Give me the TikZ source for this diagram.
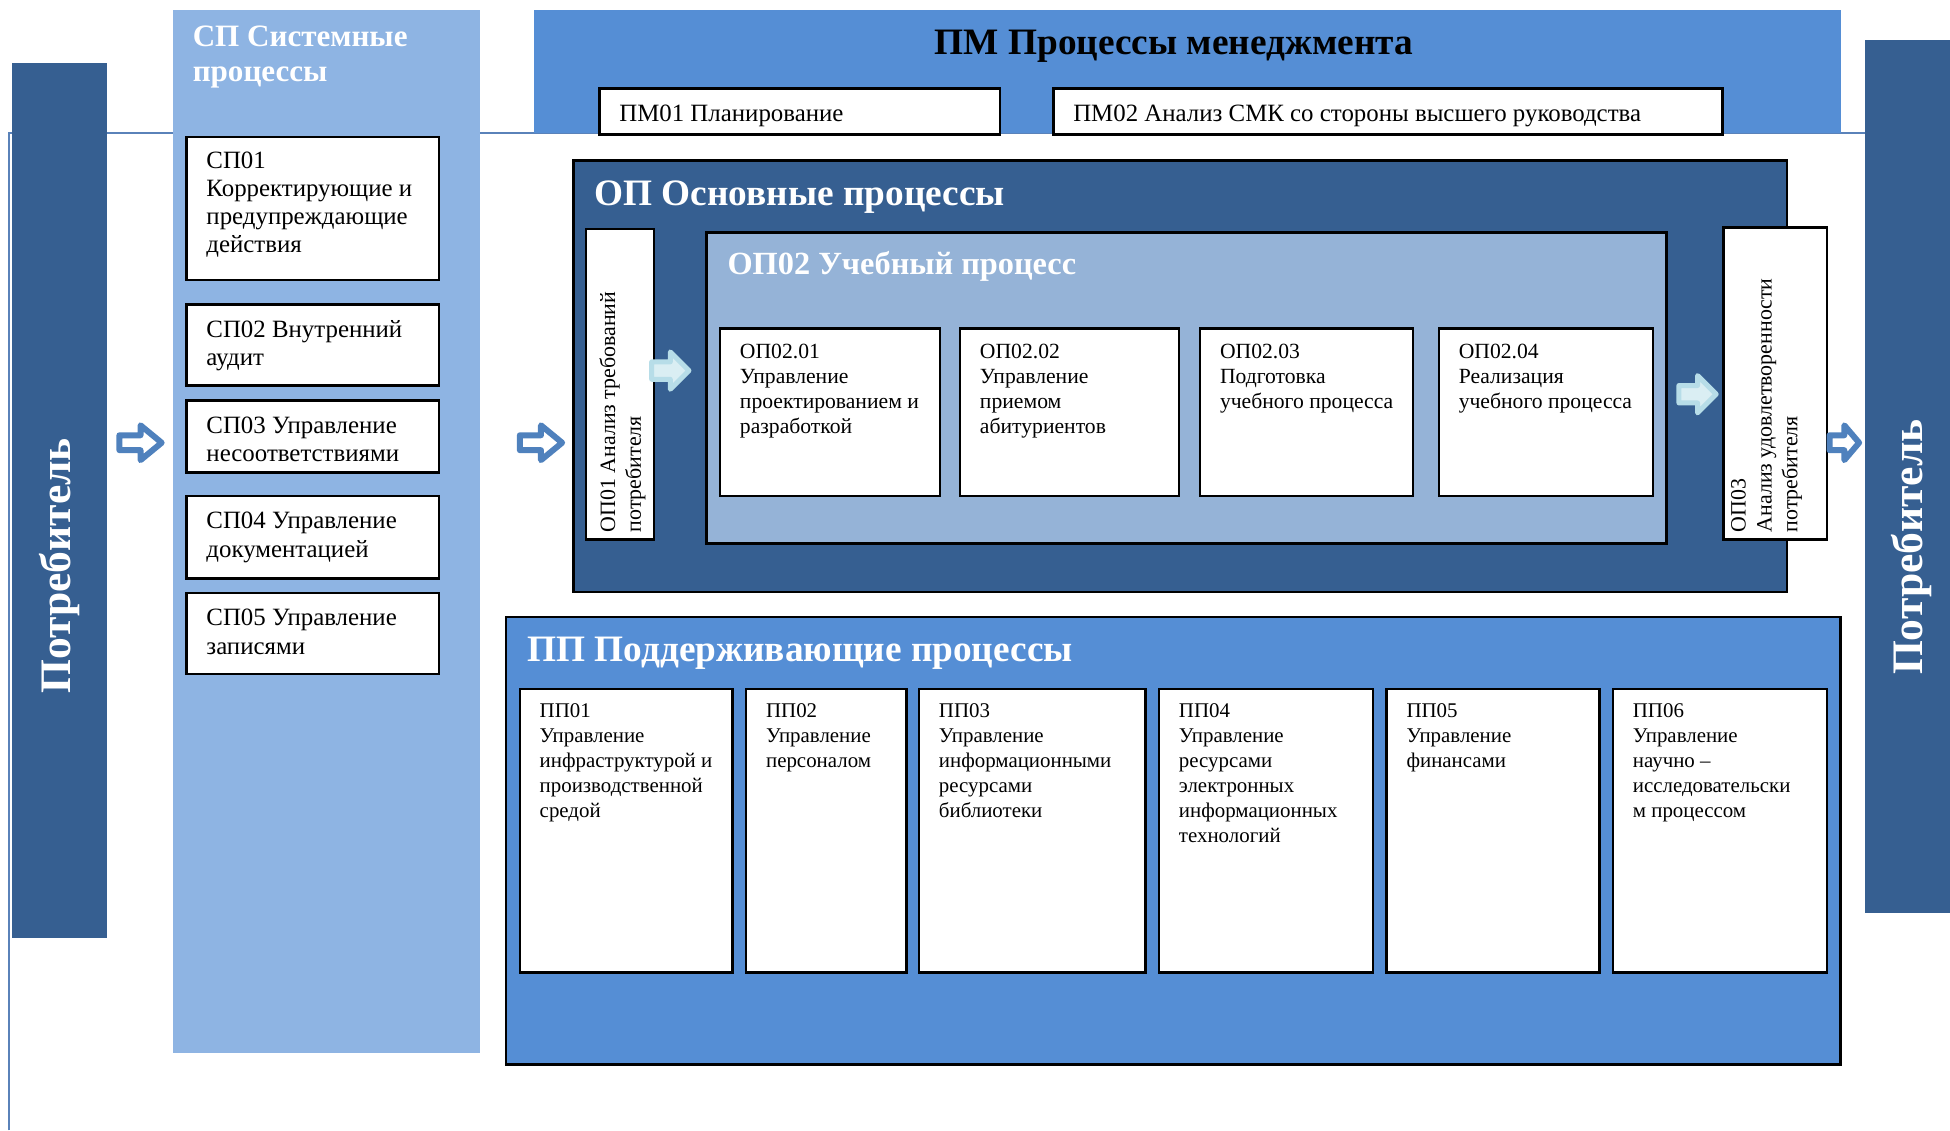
\documentclass[tikz,border=0pt]{standalone}
\usepackage{fontspec}
\setmainfont{Liberation Serif}
\usetikzlibrary{fit,calc}
\definecolor{dkblue}{RGB}{54,95,145}
\definecolor{midblue}{RGB}{85,142,213}
\definecolor{spblue}{RGB}{142,180,227}
\definecolor{opblue}{RGB}{149,179,215}
\definecolor{arrblue}{RGB}{79,129,189}
\definecolor{cyanline}{RGB}{183,221,232}
\definecolor{cyanfill}{RGB}{218,238,243}
\definecolor{frameline}{RGB}{90,130,185}
\begin{document}
\begin{tikzpicture}[x=0.5pt,y=-0.5pt,
  area/.style={inner sep=0pt, outer sep=0pt, draw=none},
  framed/.style={inner sep=0pt, outer sep=0pt, draw=black, line width=1pt},
  wbox/.style={framed, fill=white},
  txt/.style={inner sep=0pt, outer sep=0pt, anchor=north west, align=left},
  sptxt/.style={txt, font=\fontsize{10}{11.3}\selectfont},
  optxt/.style={txt, font=\fontsize{8.7}{10}\selectfont},
  pptxt/.style={txt, font=\fontsize{8.4}{10}\selectfont},
  rottxt/.style={txt, rotate=90, font=\fontsize{8.8}{10.4}\selectfont},
  wtitle/.style={txt, text=white, font=\bfseries\fontsize{15}{17}\selectfont},
  custtxt/.style={inner sep=0pt, rotate=90, text=white, font=\bfseries\fontsize{17.5}{20}\selectfont},
  bluearrow/.pic={\draw[arrblue, line width=2.4pt, fill=white, line join=round]
     (-17,-6) -- (0,-6) -- (0,-14) -- (17,0) -- (0,14) -- (0,6) -- (-17,6) -- cycle;},
  cyanarrow/.pic={\draw[cyanline, line width=2pt, fill=cyanfill, line join=round]
     (-15,-7) -- (0,-7) -- (0,-15) -- (15,0) -- (0,15) -- (0,7) -- (-15,7) -- cycle;}
]
\useasboundingbox (0,0) rectangle (1568,909);
% thin frame line
\draw[frameline, line width=0.8pt] (7,909) -- (7,107) -- (1500,107);

% consumer bars
\node[area, fill=dkblue, fit={(10,51)(86,754)}] (lbar) {};
\node[custtxt] (lbart) at (48,455) {Потребитель};
\node[area, fill=dkblue, fit={(1500,32)(1568,734)}] (rbar) {};
\node[custtxt] (rbart) at (1537,440) {Потребитель};

% SP column
\node[area, fill=spblue, fit={(139,8)(386,847)}] (sp) {};
\node[wtitle, font=\bfseries\fontsize{12.5}{14}\selectfont] (spt) at (155,21) {СП Системные\\процессы};
\node[wbox, fit={(150,110)(353,225)}] (sp01) {};
\node[sptxt] (sp01t) at ([shift={(16,12)}]sp01.north west) {СП01\\Корректирующие и\\предупреждающие\\действия};
\node[wbox, fit={(150,245)(353,310)}] (sp02) {};
\node[sptxt] (sp02t) at ([shift={(16,13)}]sp02.north west) {СП02 Внутренний\\аудит};
\node[wbox, fit={(150,322)(353,380)}] (sp03) {};
\node[sptxt] (sp03t) at ([shift={(16,13)}]sp03.north west) {СП03 Управление\\несоответствиями};
\node[wbox, fit={(150,399)(353,465)}] (sp04) {};
\node[sptxt] (sp04t) at ([shift={(16,13)}]sp04.north west) {СП04 Управление\\документацией};
\node[wbox, fit={(150,477)(353,542)}] (sp05) {};
\node[sptxt] (sp05t) at ([shift={(16,13)}]sp05.north west) {СП05 Управление\\записями};

% PM
\node[area, fill=midblue, fit={(429,8)(1480,107)}] (pm) {};
\node[txt, anchor=north, font=\bfseries\fontsize{15}{17}\selectfont] (pmt) at (944,24) {ПМ Процессы менеджмента};
\node[wbox, fit={(482,71)(804,108)}] (pm01) {};
\node[sptxt, anchor=base west] (pm01t) at (498,98) {ПМ01 Планирование};
\node[wbox, fit={(847,71)(1385,108)}] (pm02) {};
\node[sptxt, anchor=base west] (pm02t) at (863,98) {ПМ02 Анализ СМК со стороны высшего руководства};

% OP
\node[framed, fill=dkblue, fit={(461,129)(1437,476)}] (op) {};
\node[wtitle] (opt) at (478,145) {ОП Основные процессы};
\node[wbox, fit={(471,184)(526,434)}] (op01) {};
\node[rottxt] (op01t) at (482,428) {ОП01 Анализ требований\\потребителя};
\node[framed, fill=opblue, fit={(568,187)(1340,437)}] (op02) {};
\node[wtitle, font=\bfseries\fontsize{13}{15}\selectfont] (op02t) at (585,202) {ОП02 Учебный процесс};
\node[wbox, fit={(579,264)(756,399)}] (op0201) {};
\node[optxt] (op0201t) at ([shift={(16,13)}]op0201.north west) {ОП02.01\\Управление\\проектированием и\\разработкой};
\node[wbox, fit={(772,264)(948,399)}] (op0202) {};
\node[optxt] (op0202t) at ([shift={(16,13)}]op0202.north west) {ОП02.02\\Управление\\приемом\\абитуриентов};
\node[wbox, fit={(965,264)(1136,399)}] (op0203) {};
\node[optxt] (op0203t) at ([shift={(16,13)}]op0203.north west) {ОП02.03\\Подготовка\\учебного процесса};
\node[wbox, fit={(1157,264)(1329,399)}] (op0204) {};
\node[optxt] (op0204t) at ([shift={(16,13)}]op0204.north west) {ОП02.04\\Реализация\\учебного процесса};
\node[wbox, fit={(1386,183)(1469,434)}] (op03) {};
\node[rottxt] (op03t) at (1392,428) {ОП03\\Анализ удовлетворенности\\потребителя};

% PP
\node[framed, fill=midblue, fit={(407,496)(1480,856)}] (pp) {};
\node[wtitle] (ppt) at (424,512) {ПП Поддерживающие процессы};
\node[wbox, fit={(418,554)(589,782)}] (pp01) {};
\node[pptxt] (pp01t) at ([shift={(16,12)}]pp01.north west) {ПП01\\Управление\\инфраструктурой и\\производственной\\средой};
\node[wbox, fit={(600,554)(729,782)}] (pp02) {};
\node[pptxt] (pp02t) at ([shift={(16,12)}]pp02.north west) {ПП02\\Управление\\персоналом};
\node[wbox, fit={(739,554)(921,782)}] (pp03) {};
\node[pptxt] (pp03t) at ([shift={(16,12)}]pp03.north west) {ПП03\\Управление\\информационными\\ресурсами\\библиотеки};
\node[wbox, fit={(932,554)(1104,782)}] (pp04) {};
\node[pptxt] (pp04t) at ([shift={(16,12)}]pp04.north west) {ПП04\\Управление\\ресурсами\\электронных\\информационных\\технологий};
\node[wbox, fit={(1115,554)(1286,782)}] (pp05) {};
\node[pptxt] (pp05t) at ([shift={(16,12)}]pp05.north west) {ПП05\\Управление\\финансами};
\node[wbox, fit={(1297,554)(1469,782)}] (pp06) {};
\node[pptxt] (pp06t) at ([shift={(16,12)}]pp06.north west) {ПП06\\Управление\\научно –\\исследовательски\\м процессом};

% block arrows
\coordinate (a1) at (113,356);
\coordinate (a2) at (435,356);
\coordinate (a3) at (1483,356);
\coordinate (c1) at (539,298);
\coordinate (c2) at (1365,317);
\pic at (a1) {bluearrow};
\pic at (a2) {bluearrow};
\pic[xscale=0.7] at (a3) {bluearrow};
\pic at (c1) {cyanarrow};
\pic at (c2) {cyanarrow};
\end{tikzpicture}
\end{document}
